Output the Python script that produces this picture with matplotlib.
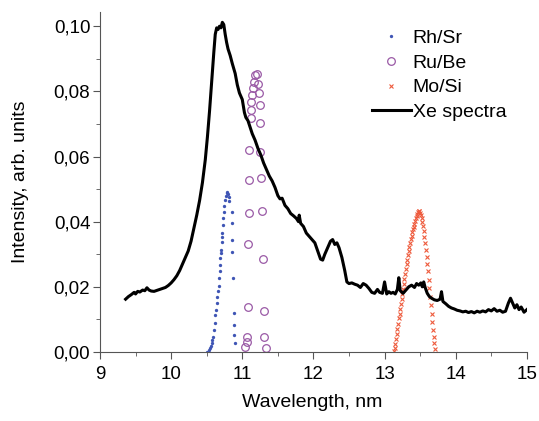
import numpy as np
import matplotlib.pyplot as plt
from matplotlib.ticker import MultipleLocator, FuncFormatter

plt.rcParams['font.family'] = ['Liberation Sans', 'DejaVu Sans']

# Xe spectrum
xe_wl = [9.36, 9.40, 9.44, 9.48, 9.50, 9.53, 9.56, 9.60, 9.63, 9.66, 9.69, 9.72, 9.76, 9.80,
         9.84, 9.88, 9.92, 9.96, 10.00, 10.04, 10.08, 10.12, 10.16, 10.20, 10.24, 10.28,
         10.32, 10.36, 10.40, 10.44, 10.48, 10.51, 10.54, 10.57, 10.60, 10.62, 10.64, 10.66,
         10.68, 10.70, 10.72, 10.74, 10.76, 10.78, 10.80, 10.83, 10.86, 10.90, 10.93, 10.96,
         11.00, 11.03, 11.05, 11.08, 11.11, 11.14, 11.18, 11.22, 11.26, 11.30, 11.34, 11.38,
         11.42, 11.46, 11.50, 11.53, 11.56, 11.60, 11.64, 11.68, 11.72, 11.76, 11.79, 11.80,
         11.82, 11.86, 11.90, 11.94, 11.98, 12.02, 12.06, 12.10, 12.13, 12.16, 12.20, 12.24,
         12.27, 12.30, 12.33, 12.36, 12.40, 12.44, 12.47, 12.50, 12.54, 12.58, 12.62, 12.66,
         12.70, 12.74, 12.78, 12.82, 12.86, 12.90, 12.93, 12.97, 13.00, 13.03, 13.06, 13.09,
         13.12, 13.15, 13.18, 13.20, 13.22, 13.26, 13.30, 13.34, 13.38, 13.42, 13.45, 13.48,
         13.51, 13.53, 13.55, 13.57, 13.60, 13.63, 13.66, 13.70, 13.74, 13.78, 13.80, 13.82,
         13.86, 13.90, 13.94, 13.98, 14.02, 14.06, 14.10, 14.14, 14.18, 14.22, 14.26, 14.30,
         14.34, 14.38, 14.42, 14.46, 14.50, 14.54, 14.58, 14.62, 14.66, 14.70, 14.74, 14.77,
         14.80, 14.83, 14.86, 14.89, 14.92, 14.96, 15.00]
xe_int = [0.0162, 0.0170, 0.0176, 0.0183, 0.0178, 0.0186, 0.0184, 0.0190, 0.0188, 0.0197,
          0.0190, 0.0187, 0.0186, 0.0189, 0.0192, 0.0195, 0.0198, 0.0204, 0.0212, 0.0222,
          0.0234, 0.0250, 0.0270, 0.0290, 0.0310, 0.0340, 0.0380, 0.0420, 0.0465, 0.0520,
          0.0590, 0.0660, 0.0740, 0.0830, 0.0920, 0.0975, 0.0995, 0.0990, 0.1000, 0.0995,
          0.1012, 0.1005, 0.0975, 0.0950, 0.0930, 0.0910, 0.0885, 0.0855, 0.0820, 0.0795,
          0.0775, 0.0735, 0.0720, 0.0710, 0.0690, 0.0670, 0.0650, 0.0625, 0.0605, 0.0580,
          0.0560, 0.0540, 0.0525, 0.0505, 0.0480, 0.0470, 0.0472, 0.0450, 0.0440, 0.0425,
          0.0418, 0.0410, 0.0400, 0.0420, 0.0395, 0.0385, 0.0365, 0.0355, 0.0345, 0.0335,
          0.0310, 0.0285, 0.0282, 0.0300, 0.0320, 0.0340, 0.0345, 0.0330, 0.0335, 0.0320,
          0.0290, 0.0250, 0.0215, 0.0210, 0.0212, 0.0208, 0.0205, 0.0198, 0.0210, 0.0205,
          0.0195, 0.0183, 0.0180, 0.0192, 0.0183, 0.0180, 0.0215, 0.0178, 0.0185, 0.0180,
          0.0183, 0.0178, 0.0192, 0.0228, 0.0188, 0.0180, 0.0190, 0.0200, 0.0205, 0.0198,
          0.0210, 0.0205, 0.0212, 0.0200, 0.0215, 0.0198, 0.0180, 0.0170, 0.0165, 0.0160,
          0.0158, 0.0162, 0.0185, 0.0155, 0.0148, 0.0140, 0.0135, 0.0132, 0.0128, 0.0126,
          0.0123, 0.0125, 0.0121, 0.0124, 0.0120, 0.0125, 0.0122, 0.0126, 0.0123, 0.0130,
          0.0126, 0.0133, 0.0125, 0.0128, 0.0122, 0.0125, 0.0150, 0.0165, 0.0150, 0.0135,
          0.0145, 0.0130, 0.0138, 0.0122, 0.0130]

# Rh/Sr reflectivity
rh_wl = [10.51, 10.53, 10.55, 10.56, 10.57, 10.58, 10.59, 10.60, 10.61, 10.62, 10.63, 10.64,
         10.65, 10.66, 10.67, 10.67, 10.68, 10.68, 10.69, 10.70, 10.70, 10.71, 10.72, 10.72,
         10.73, 10.73, 10.74, 10.75, 10.76, 10.77, 10.78, 10.79, 10.80, 10.81,
         10.82, 10.85, 10.85, 10.86, 10.86, 10.87, 10.88, 10.89, 10.89, 10.90]
rh_r = [0.0000, 0.0005, 0.0011, 0.0018, 0.0026, 0.0036, 0.0047, 0.0067, 0.0088, 0.0113,
        0.0129, 0.0150, 0.0170, 0.0186, 0.0201, 0.0226, 0.0247, 0.0267, 0.0288, 0.0303,
        0.0313, 0.0339, 0.0352, 0.0365, 0.0390, 0.0410, 0.0431, 0.0447, 0.0466, 0.0479,
        0.0487, 0.0490, 0.0485, 0.0477,
        0.0462, 0.0431, 0.0395, 0.0344, 0.0308, 0.0226, 0.0119, 0.0083, 0.0052, 0.0026]

# Ru/Be reflectivity
ru_wl = [11.04, 11.06, 11.07, 11.085, 11.085, 11.10, 11.10, 11.10, 11.12, 11.12, 11.12, 11.13,
         11.15, 11.17, 11.18, 11.21, 11.22, 11.23, 11.25, 11.25, 11.25, 11.27, 11.28, 11.29,
         11.30, 11.31, 11.33]
ru_r = [0.0016, 0.0032, 0.0047, 0.0139, 0.0331, 0.0428, 0.0528, 0.0620, 0.0717, 0.0742,
        0.0768, 0.0788, 0.0809, 0.0829, 0.0850, 0.0853, 0.0824, 0.0794, 0.0758, 0.0703,
        0.0614, 0.0535, 0.0433, 0.0284, 0.0127, 0.0047, 0.0011]

# Mo/Si reflectivity
mo_wl = [13.13, 13.14, 13.15, 13.16, 13.17, 13.18, 13.19, 13.20, 13.21, 13.22, 13.23, 13.24,
         13.25, 13.26, 13.27, 13.28, 13.29, 13.30, 13.31, 13.32, 13.33, 13.34, 13.35, 13.36,
         13.37, 13.38, 13.39, 13.40, 13.41, 13.42, 13.43, 13.44, 13.45, 13.46, 13.47, 13.48,
         13.49, 13.50, 13.51, 13.52, 13.53, 13.54, 13.55, 13.56, 13.57, 13.58, 13.59, 13.60,
         13.61, 13.62, 13.63, 13.64, 13.65, 13.66, 13.67, 13.68, 13.69, 13.70, 13.71]
mo_r = [0.0003, 0.0012, 0.0025, 0.0040, 0.0055, 0.0070, 0.0087, 0.0103, 0.0118, 0.0133,
        0.0148, 0.0163, 0.0178, 0.0193, 0.0208, 0.0223, 0.0240, 0.0255, 0.0270, 0.0283,
        0.0297, 0.0310, 0.0322, 0.0335, 0.0346, 0.0357, 0.0367, 0.0376, 0.0385, 0.0394,
        0.0402, 0.0410, 0.0418, 0.0424, 0.0429, 0.0432, 0.0432, 0.0428, 0.0421, 0.0412,
        0.0400, 0.0386, 0.0370, 0.0352, 0.0333, 0.0313, 0.0292, 0.0270, 0.0247, 0.0222,
        0.0196, 0.0170, 0.0143, 0.0117, 0.0092, 0.0068, 0.0046, 0.0026, 0.0010]

fig = plt.figure(figsize=(5.39, 4.21), dpi=100)
ax = fig.add_axes([0.1855, 0.164, 0.792, 0.807])

ax.plot(rh_wl, rh_r, 'o', ms=2.4, color='#3f55b5', mec='none', label='Rh/Sr')
ax.plot(ru_wl, ru_r, 'o', ms=5.5, mfc='none', mec='#9a5aa6', mew=0.9, label='Ru/Be')
ax.plot(mo_wl, mo_r, 'x', ms=3.5, color='#ee5a3c', mew=0.8, label='Mo/Si')
ax.plot(xe_wl, xe_int, '-', color='black', lw=2.2, label='Xe spectra')

ax.set_xlim(9, 15)
ax.set_ylim(0, 0.1043)
ax.xaxis.set_major_locator(MultipleLocator(1))
ax.xaxis.set_minor_locator(MultipleLocator(0.5))
ax.yaxis.set_major_locator(MultipleLocator(0.02))
ax.yaxis.set_minor_locator(MultipleLocator(0.01))
ax.yaxis.set_major_formatter(FuncFormatter(lambda v, p: f"{v:.2f}".replace('.', ',')))

for s in ['top', 'right']:
    ax.spines[s].set_visible(False)
for s in ['left', 'bottom']:
    ax.spines[s].set_color('#555555')
ax.tick_params(which='both', direction='out', color='#555555', labelsize=13.5)
ax.tick_params(which='major', length=5)
ax.tick_params(which='minor', length=3)
ax.tick_params(axis='x', pad=5)
ax.tick_params(axis='y', pad=2)

ax.set_xlabel('Wavelength, nm', fontsize=14)
ax.set_ylabel('Intensity, arb. units', fontsize=14)
ax.xaxis.set_label_coords(0.498, -0.125)
ax.yaxis.set_label_coords(-0.166, 0.5)

ax.legend(loc='upper left', bbox_to_anchor=(0.637, 0.95), frameon=False, numpoints=1,
          handlelength=2.0, handletextpad=0.1, fontsize=14, labelspacing=0.37,
          borderaxespad=0, borderpad=0)

fig.savefig('out.png', dpi=100)
